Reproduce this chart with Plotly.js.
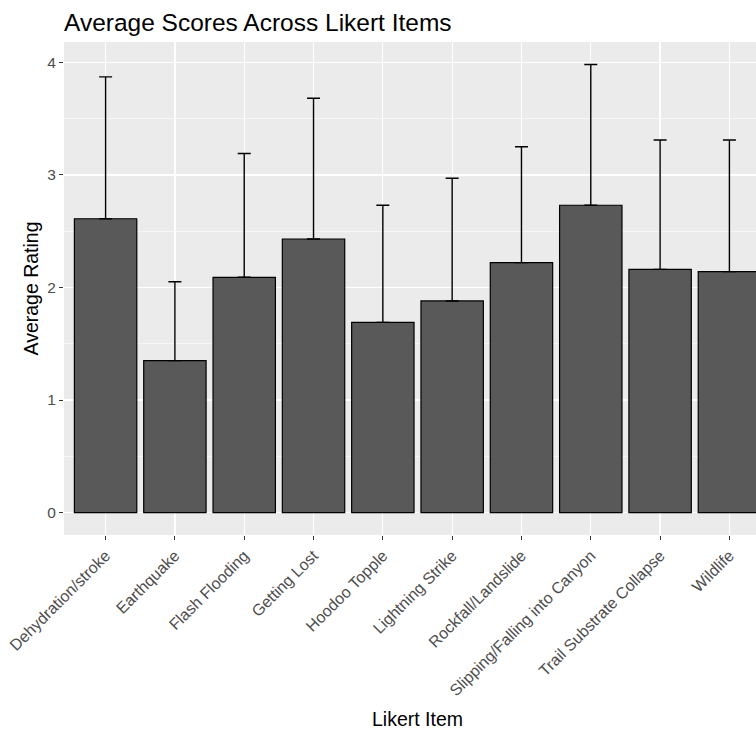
<!DOCTYPE html>
<html>
<head>
<meta charset="utf-8">
<script src="https://cdn.plot.ly/plotly-3.0.1.min.js"></script>
<style>
  html, body { margin: 0; padding: 0; background: #ffffff; overflow: hidden; width: 756px; height: 730px; }
  #chart { width: 772px; height: 730px; }
</style>
</head>
<body>
<div id="chart"></div>
<script>
// Data
const categories = [
  "Dehydration/stroke",
  "Earthquake",
  "Flash Flooding",
  "Getting Lost",
  "Hoodoo Topple",
  "Lightning Strike",
  "Rockfall/Landslide",
  "Slipping/Falling into Canyon",
  "Trail Substrate Collapse",
  "Wildlife"
];
const meanRating = [2.61, 1.35, 2.09, 2.43, 1.69, 1.88, 2.22, 2.73, 2.16, 2.14];
const sdRating   = [1.26, 0.70, 1.10, 1.25, 1.04, 1.09, 1.03, 1.25, 1.15, 1.17];
const zeroMinus  = [0, 0, 0, 0, 0, 0, 0, 0, 0, 0];
const yTickVals  = [0, 1, 2, 3, 4];

const FONT = "Liberation Sans, Arimo, Arial, sans-serif";

const trace = {
  type: "bar",
  x: categories,
  y: meanRating,
  marker: { color: "#595959", line: { color: "#000000", width: 1.2 } },
  error_y: {
    type: "data",
    symmetric: false,
    array: sdRating,
    arrayminus: zeroMinus,
    color: "#000000",
    thickness: 1.4,
    width: 6.5
  },
  hoverinfo: "x+y"
};

const layout = {
  width: 772,
  height: 730,
  paper_bgcolor: "#ffffff",
  plot_bgcolor: "#ebebeb",
  margin: { l: 64, r: 1, t: 42, b: 195 },
  bargap: 0.1,
  showlegend: false,
  font: { family: FONT, color: "#000000" },
  title: {
    text: "Average Scores Across Likert Items",
    font: { family: FONT, size: 24.5, color: "#000000" },
    xref: "paper", x: 0, xanchor: "left",
    yref: "container", y: 1 - 22 / 730, yanchor: "middle"
  },
  xaxis: {
    type: "category",
    range: [-0.6, 9.6],
    showgrid: true,
    gridcolor: "#ffffff",
    gridwidth: 1.3,
    zeroline: false,
    showline: false,
    ticks: "outside",
    ticklen: 4,
    tickwidth: 1,
    tickcolor: "#333333",
    tickangle: -45,
    tickfont: { family: FONT, size: 16, color: "#4d4d4d" },
    title: {
      text: "Likert Item",
      font: { family: FONT, size: 19.5, color: "#000000" },
      standoff: 17
    },
    fixedrange: true
  },
  yaxis: {
    range: [-0.199, 4.18],
    tickvals: yTickVals,
    ticktext: yTickVals.map(String),
    showgrid: true,
    gridcolor: "#ffffff",
    gridwidth: 1.3,
    minor: { tickvals: [0.5, 1.5, 2.5, 3.5], showgrid: true, gridcolor: "#ffffff", gridwidth: 0.6, ticks: "" },
    zeroline: false,
    showline: false,
    ticks: "outside",
    ticklen: 4,
    tickwidth: 1,
    tickcolor: "#333333",
    tickfont: { family: FONT, size: 15.5, color: "#4d4d4d" },
    title: {
      text: "Average Rating",
      font: { family: FONT, size: 19.5, color: "#000000" },
      standoff: 3
    },
    fixedrange: true
  }
};

Plotly.newPlot("chart", [trace], layout, { displayModeBar: false, staticPlot: true });
</script>
</body>
</html>
